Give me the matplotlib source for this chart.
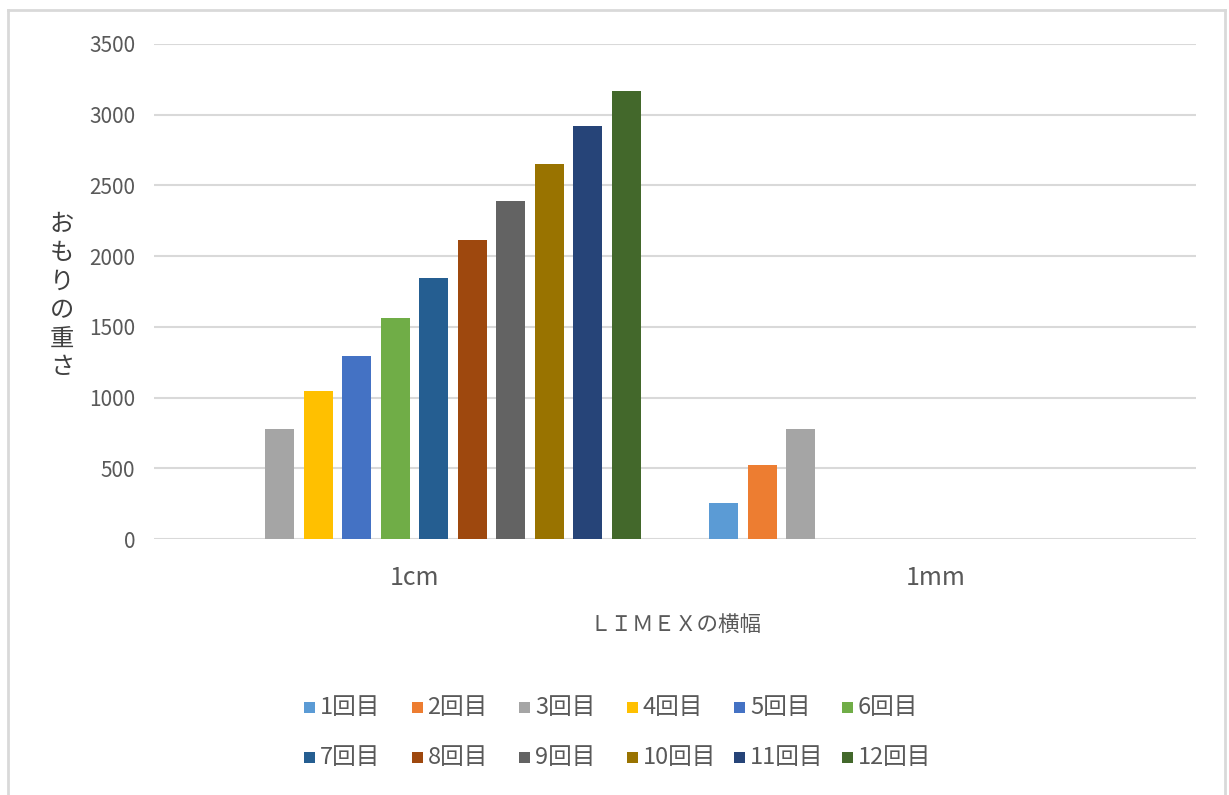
import matplotlib
matplotlib.use("Agg")
import matplotlib.pyplot as plt
import numpy as np
from matplotlib.lines import Line2D
from matplotlib.patches import Rectangle

plt.rcParams['font.family'] = ['Noto Sans CJK JP', 'DejaVu Sans']

categories = ['1cm', '1mm']
series_names = ['1回目', '2回目', '3回目', '4回目', '5回目', '6回目',
                '7回目', '8回目', '9回目', '10回目', '11回目', '12回目']
values_1cm = [0, 0, 778, 1045, 1292, 1562, 1842, 2112, 2392, 2652, 2920, 3170]
values_1mm = [256, 526, 778, 0, 0, 0, 0, 0, 0, 0, 0, 0]
colors = ['#5B9BD5', '#ED7D31', '#A5A5A5', '#FFC000', '#4472C4', '#70AD47',
          '#255E91', '#9E480E', '#636363', '#997300', '#264478', '#43682B']
y_ticks = [0, 500, 1000, 1500, 2000, 2500, 3000, 3500]

text_color = '#595959'
grid_color = '#D9D9D9'
W, H = 1229, 795

fig = plt.figure(figsize=(W / 100, H / 100), dpi=100)
ax = fig.add_axes([154 / W, 1 - 539 / H, (1196 - 154) / W, (539 - 44) / H])

n = len(series_names)
x = np.arange(len(categories))
step = 0.0739
width = 0.0557
for i, name in enumerate(series_names):
    vals = [values_1cm[i], values_1mm[i]]
    ax.bar(x + (i - (n - 1) / 2) * step, vals, width=width, color=colors[i],
           label=name, zorder=3)

ax.set_xlim(-0.5, len(categories) - 0.5)
ax.set_ylim(0, 3500)
ax.set_yticks(y_ticks)
ax.set_yticklabels([str(v) for v in y_ticks])
ax.set_xticks(x)
ax.set_xticklabels(categories)
ax.tick_params(axis='y', length=0, pad=13.5, labelsize=15, labelcolor=text_color)
ax.tick_params(axis='x', length=0, pad=19, labelsize=18, labelcolor=text_color)
ax.grid(axis='y', color=grid_color, linewidth=1.5, zorder=0)
for s in ax.spines.values():
    s.set_visible(False)

ax.set_xlabel('ＬＩＭＥＸの横幅', fontsize=15.5, color=text_color, labelpad=16)

# vertical (upright) y-axis title
fig.text(62 / W, 1 - 296 / H, '\n'.join('おもりの重さ'), fontsize=17.5,
         color='#404040', ha='center', va='center', linespacing=1.13)

# legend: two rows of six entries, laid out on an even grid
leg_x0, leg_dx = 304, 107.5
leg_rows = [707, 757]
box = 11
for i, (name, c) in enumerate(zip(series_names, colors)):
    col, row = i % 6, i // 6
    px = leg_x0 + col * leg_dx
    py = leg_rows[row]
    fig.add_artist(Rectangle((px / W, 1 - (py + box / 2) / H), box / W, box / H,
                             transform=fig.transFigure, facecolor=c,
                             edgecolor='none'))
    fig.text((px + box + 5) / W, 1 - py / H, name, fontsize=17,
             color=text_color, ha='left', va='center')

# outer chart border
border = dict(color='#D9D9D9', linewidth=2, transform=fig.transFigure)
fig.add_artist(Line2D([8 / W, 8 / W], [0, 1 - 10 / H], **border))
fig.add_artist(Line2D([8 / W, 1225 / W], [1 - 10 / H, 1 - 10 / H], **border))
fig.add_artist(Line2D([1225 / W, 1225 / W], [0, 1 - 10 / H], **border))

fig.savefig('out.png', dpi=100, facecolor='white')
